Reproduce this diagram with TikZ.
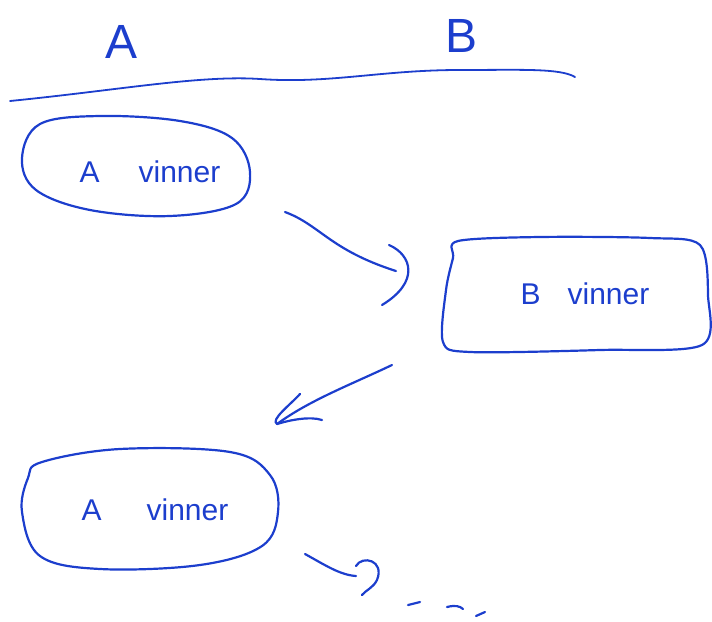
\documentclass[tikz,border=0pt]{standalone}
\usepackage{fontspec}
\setmainfont{Liberation Sans}
\definecolor{pen}{RGB}{28,62,205}
\begin{document}
\begin{tikzpicture}[x=1pt,y=-1pt,
  ink/.style={draw=pen,line width=2.2pt,line cap=round,line join=round},
  hand/.style={text=pen,font=\fontsize{30}{32}\selectfont},
  title/.style={text=pen,font=\fontsize{48}{52}\selectfont}]
\useasboundingbox (0,0) rectangle (712,621);
% column titles and rule
\node[title] (ta) at (122,42) {A};
\node[title] (tb) at (462,36) {B};
\draw[ink,line width=1.8pt] (10,101) .. controls (120,90) and (200,75) .. (260,79)
  .. controls (330,84) and (380,70) .. (460,70) .. controls (520,70) and (560,68) .. (575,77);
% blob 1
\draw[ink] plot[smooth cycle,tension=0.6] coordinates {(40,124) (100,116) (180,121) (232,138) (250,172) (236,204) (170,216) (90,210) (36,190) (22,158)};
\node[hand] (a1) at (150,172) {A\hspace{1.3em}vinner};
% blob 2
\draw[ink] plot[smooth cycle,tension=0.5] coordinates {(458,241) (540,237) (650,238) (700,245) (708,295) (702,345) (600,350) (470,352) (443,342) (446,290) (453,258)};
\node[hand] (b1) at (585,294) {B\hspace{0.9em}vinner};
% blob 3
\draw[ink] plot[smooth cycle,tension=0.6] coordinates {(42,462) (120,449) (230,452) (270,475) (278,512) (262,546) (200,565) (100,569) (40,556) (22,512) (28,478)};
\node[hand] (a2) at (155,510) {A\hspace{1.5em}vinner};
% arrow 1
\coordinate (s1) at (285,212);
\coordinate (e1) at (396,271);
\draw[ink] (s1) .. controls (320,225) and (330,250) .. (e1);
\draw[ink] (389,245) .. controls (412,255) and (420,282) .. (382,305);
% arrow 2
\coordinate (s2) at (392,365);
\coordinate (e2) at (277,424);
\draw[ink] (s2) .. controls (350,385) and (310,400) .. (e2);
\draw[ink] (300,394) .. controls (290,405) and (270,420) .. (e2) .. controls (290,420) and (310,416) .. (322,420);
% arrow 3
\coordinate (s3) at (305,554);
\coordinate (e3) at (356,576);
\draw[ink] (s3) .. controls (325,565) and (340,575) .. (e3);
\draw[ink] (356,566) .. controls (362,555) and (385,560) .. (377,580) .. controls (373,588) and (366,590) .. (362,595);
% dashes
\draw[ink] (408,605) -- (420,602);
\draw[ink] (447,607) .. controls (455,605) and (460,606) .. (463,609);
\draw[ink] (476,616) -- (485,612);
\end{tikzpicture}
\end{document}
